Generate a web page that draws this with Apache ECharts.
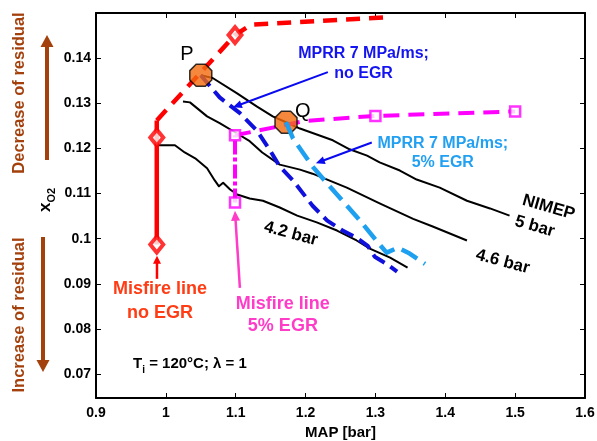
<!DOCTYPE html>
<html><head><meta charset="utf-8">
<script src="https://cdn.jsdelivr.net/npm/echarts@6/dist/echarts.min.js"></script>
<style>html,body{margin:0;padding:0;background:#fff}#c{width:597px;height:441px}</style>
</head><body><div id="c"></div>
<script>
const FONT = '"Liberation Sans", Arial, Helvetica, sans-serif';

// ---------- data ----------
const xTickValues = [0.9, 1.0, 1.1, 1.2, 1.3, 1.4, 1.5, 1.6];
const yTickValues = [0.07, 0.08, 0.09, 0.10, 0.11, 0.12, 0.13, 0.14];

const nimep5bar = [[1.050,0.1362],[1.067,0.1356],[1.102,0.1322],[1.130,0.1293],[1.153,0.1271],[1.172,0.1258],[1.192,0.1244],[1.239,0.1218],[1.263,0.1198],[1.288,0.1184],[1.306,0.1169],[1.335,0.1151],[1.359,0.1131],[1.392,0.1113],[1.431,0.1084],[1.464,0.1067],[1.492,0.1051]];
const nimep46bar = [[1.0245,0.1304],[1.0345,0.1302],[1.059,0.1271],[1.077,0.1256],[1.102,0.1233],[1.120,0.1216],[1.138,0.1191],[1.163,0.1164],[1.192,0.1153],[1.210,0.1144],[1.259,0.1113],[1.306,0.1078],[1.354,0.1044],[1.382,0.1027],[1.431,0.0996]];
const nimep42bar = [[0.9873,0.1207],[1.013,0.1207],[1.027,0.1191],[1.042,0.1178],[1.059,0.1156],[1.070,0.1129],[1.076,0.1116],[1.082,0.1124],[1.092,0.1109],[1.102,0.1098],[1.120,0.1089],[1.139,0.1084],[1.163,0.1069],[1.188,0.1051],[1.216,0.1036],[1.245,0.1018],[1.273,0.0996],[1.292,0.0978],[1.321,0.0958],[1.346,0.0936]];
const mprrNoEgr = [[1.050,0.1362],[1.077,0.1313],[1.106,0.1278],[1.130,0.1240],[1.149,0.1196],[1.163,0.1160],[1.182,0.1129],[1.192,0.1109],[1.210,0.1073],[1.231,0.1040],[1.253,0.1018],[1.273,0.1002],[1.289,0.0984],[1.299,0.0960],[1.316,0.0944],[1.331,0.0927]];
const mprrEgr5 = [[1.172,0.1258],[1.182,0.1222],[1.196,0.1191],[1.210,0.1160],[1.231,0.1122],[1.253,0.1084],[1.278,0.1040],[1.299,0.1000],[1.316,0.0969],[1.332,0.0980],[1.349,0.0967],[1.371,0.0944]];

const misfireNoEgrSolid = [[0.987,0.0987],[0.987,0.1262]];
const misfireNoEgrDashed = [[0.987,0.1262],[1.099,0.1451],[1.122,0.1474],[1.313,0.1490]];
const misfireNoEgrPoints = [[0.987,0.0987],[0.987,0.1224],[1.099,0.1451]];

const misfireEgrVertical = [[1.099,0.1080],[1.099,0.1229]];
const misfireEgrDashed = [[1.099,0.1229],[1.200,0.1261],[1.300,0.1272],[1.500,0.1282]];
const misfireEgrPoints = [[1.099,0.1080],[1.099,0.1229],[1.300,0.1272],[1.500,0.1282]];

const operatingPoints = [[1.050,0.1362],[1.172,0.1258]];
const operatingNames = ['P','Q'];

// ---------- styles ----------
const C = {
  red:'#ff0000', magenta:'#ff00ff', blue:'#1010dc', lblue:'#1ea0f0',
  blueTxt:'#1414f0', lblueTxt:'#22a0f2', redTxt:'#ff3c14', pinkTxt:'#ff3cc8',
  brown:'#a3400c', orange:'#f26a0c'
};
const OCT = 'path://M29,0 L71,0 L100,29 L100,71 L71,100 L29,100 L0,71 L0,29 Z';

function fmt(v){ return String(+(+v).toFixed(2)); }

const axisLabelStyle = {color:'#000', fontFamily:FONT, fontWeight:'bold', fontSize:14};

function xAx(pos, showLabel){
  return {type:'value', position:pos, min:0.9, max:1.6, interval:0.1,
    axisLine:{show:true, onZero:false, lineStyle:{color:'#000', width:2}},
    axisTick:{show:true, inside:true, length:5, lineStyle:{color:'#000', width:1}},
    splitLine:{show:false},
    axisLabel: showLabel ? Object.assign({margin:8, formatter:fmt}, axisLabelStyle) : {show:false},
    name: showLabel ? 'MAP [bar]' : '', nameLocation:'middle', nameGap:26,
    nameTextStyle:{color:'#000', fontFamily:FONT, fontWeight:'bold', fontSize:15}
  };
}
function yAx(pos, showLabel){
  return {type:'value', position:pos, min:0.0647, max:0.15,
    axisLine:{show:true, onZero:false, lineStyle:{color:'#000', width:2}},
    axisTick:{show:true, inside:true, length:5, customValues:yTickValues, lineStyle:{color:'#000', width:1}},
    splitLine:{show:false},
    axisLabel: showLabel ? Object.assign({margin:5, customValues:yTickValues, formatter:fmt}, axisLabelStyle) : {show:false}
  };
}

function lineSeries(data, color, width, type, z, xi){
  return {type:'line', data:data, symbol:'none', smooth:false, silent:true, animation:false, z:z||2,
    lineStyle:{color:color, width:width, type:type||'solid', cap:'butt', join:'round'}};
}

const option = {
  animation:false,
  backgroundColor:'#fff',
  grid:{left:96, right:12, top:13, bottom:43, containLabel:false, outerBoundsMode:'none'},
  xAxis:[xAx('bottom', true), xAx('top', false)],
  yAxis:[yAx('left', true), yAx('right', false)],
  series:[
    lineSeries(nimep5bar, '#000', 2, 'solid', 2),
    lineSeries(nimep46bar, '#000', 2, 'solid', 2),
    lineSeries(nimep42bar, '#000', 2, 'solid', 2),
    lineSeries(misfireEgrVertical, C.magenta, 4, [14,3,4,3], 3),
    lineSeries(misfireEgrDashed, C.magenta, 4, [16,9], 3),
    lineSeries(misfireNoEgrSolid, C.red, 4.5, 'solid', 3),
    lineSeries(misfireNoEgrDashed, C.red, 4.5, [14,9], 3),
    lineSeries(mprrNoEgr, C.blue, 4, [14,7], 4),
    {type:'scatter', data:misfireNoEgrPoints, symbol:'diamond', symbolSize:[13,16], z:5, silent:true,
      itemStyle:{color:'#fff', borderColor:C.red, borderWidth:4}},
    {type:'scatter', data:misfireEgrPoints, symbol:'rect', symbolSize:10, z:5, silent:true,
      itemStyle:{color:'#fff', borderColor:C.magenta, borderWidth:2.5}},
    {type:'scatter', data:operatingPoints, symbol:OCT, symbolSize:22, z:6, silent:true,
      itemStyle:{color:C.orange, borderColor:'#000', borderWidth:1.5}},
    lineSeries(mprrEgr5, C.lblue, 4.5, [18,8], 7)
  ]
};

const chart = echarts.init(document.getElementById('c'), null, {renderer:'canvas'});
chart.setOption(option);

// ---------- annotations (data-space anchors converted through the axes) ----------
function px(pt){ return chart.convertToPixel({xAxisIndex:0, yAxisIndex:0}, pt); }
function arrow(p1, p2, color, width, headLen, headW){
  const dx=p2[0]-p1[0], dy=p2[1]-p1[1], L=Math.hypot(dx,dy), ux=dx/L, uy=dy/L;
  const bx=p2[0]-ux*headLen, by=p2[1]-uy*headLen, nx=-uy, ny=ux;
  return [
    {type:'line', silent:true, z:100, shape:{x1:p1[0], y1:p1[1], x2:bx+ux, y2:by+uy}, style:{stroke:color, lineWidth:width}},
    {type:'polygon', silent:true, z:100, shape:{points:[[p2[0],p2[1]],[bx+nx*headW/2,by+ny*headW/2],[bx-nx*headW/2,by-ny*headW/2]]}, style:{fill:color}}
  ];
}
function txt(pt, text, size, color, opts){
  opts = opts || {};
  return {type:'text', silent:true, z:100, x:pt[0], y:pt[1], rotation:opts.rot||0,
    style:{text:text, fontFamily:FONT, fontWeight:opts.weight||'bold', fontSize:size, fill:color,
      align:opts.align||'center', verticalAlign:'middle', lineHeight:opts.lh||size*1.2, rich:opts.rich}};
}
const deg = Math.PI/180;
const g = [];
g.push(txt(px([1.030,0.1407]), 'P', 20, '#000', {weight:'normal'}));
g.push(txt(px([1.196,0.1282]), 'Q', 20, '#000', {weight:'normal'}));
g.push(txt(px([1.283,0.1389]), 'MPRR 7 MPa/ms;\nno EGR', 16, C.blueTxt, {lh:20}));
g.push(...arrow(px([1.2319,0.1369]), px([1.096,0.1291]), '#0a0af0', 2, 9, 8));
g.push(txt(px([1.3964,0.1190]), 'MPRR 7 MPa/ms;\n5% EGR', 16, C.lblueTxt, {lh:19}));
g.push(...arrow(px([1.2948,0.1213]), px([1.2147,0.1167]), '#0a0af0', 2, 9, 8));
g.push(txt(px([1.548,0.1069]), 'NIMEP', 17, '#000', {rot:-16*deg}));
g.push(txt(px([1.528,0.1027]), '5 bar', 17, '#000', {rot:-16*deg}));
g.push(txt(px([1.4823,0.0949]), '4.6 bar', 17, '#000', {rot:-15*deg}));
g.push(txt(px([1.179,0.1011]), '4.2 bar', 17, '#000', {rot:-15*deg}));
g.push(txt(px([0.9916,0.0862]), 'Misfire line\nno EGR', 18, C.redTxt, {lh:24}));
g.push(...arrow(px([0.9873,0.0911]), px([0.9873,0.0962]), C.red, 2.5, 8, 8));
g.push(txt(px([1.1675,0.0831]), 'Misfire line\n5% EGR', 18, C.pinkTxt, {lh:22}));
g.push(...arrow(px([1.106,0.0891]), px([1.0989,0.1062]), C.pinkTxt, 2.5, 10, 9));
g.push(txt(px([0.953,0.0722]), '{a|T}{s|i}{a| = 120°C; λ = 1}', 15, '#000', {align:'left', rich:{
  a:{fontFamily:FONT, fontWeight:'bold', fontSize:15, lineHeight:22, verticalAlign:'middle'},
  s:{fontFamily:FONT, fontWeight:'bold', fontSize:10, lineHeight:22, verticalAlign:'bottom'}}}));
// left-side decorations (outside plot, pixel placed)
g.push({type:'text', silent:true, x:45, y:200, rotation:Math.PI/2,
  style:{text:'{x|x}{s|O2}', align:'center', verticalAlign:'middle', rich:{
    x:{fontFamily:FONT, fontWeight:'bold', fontSize:17, lineHeight:24, verticalAlign:'middle'},
    s:{fontFamily:FONT, fontWeight:'bold', fontSize:11, lineHeight:24, verticalAlign:'bottom'}}}});
g.push({type:'text', silent:true, x:19, y:93, rotation:Math.PI/2,
  style:{text:'Decrease of residual', fontFamily:FONT, fontWeight:'bold', fontSize:16.5, fill:C.brown, align:'center', verticalAlign:'middle'}});
g.push({type:'text', silent:true, x:19, y:315, rotation:Math.PI/2,
  style:{text:'Increase of residual', fontFamily:FONT, fontWeight:'bold', fontSize:16.5, fill:C.brown, align:'center', verticalAlign:'middle'}});
g.push(...arrow([47,160], [47,35], C.brown, 4, 12, 13));
g.push(...arrow([43,237], [43,372], C.brown, 4, 12, 13));

chart.setOption({graphic:g});
</script></body></html>
